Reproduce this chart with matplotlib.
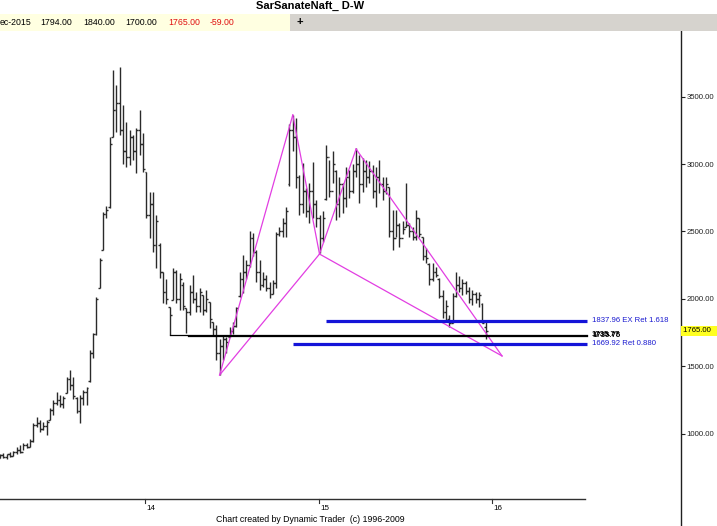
import numpy as np
import pandas as pd
import matplotlib
matplotlib.use('Agg')
import matplotlib.pyplot as plt
from matplotlib.patches import Rectangle
from matplotlib.transforms import blended_transform_factory

plt.rcParams['font.family'] = ['Liberation Sans', 'DejaVu Sans']

# weekly bars, SarSanateNaft
highs = [850, 860, 855, 870, 875, 900, 915, 930, 935, 960,
         1080, 1125, 1105, 1090, 1100, 1190, 1250, 1310, 1290, 1280,
         1420, 1475, 1420, 1275, 1290, 1325, 1350, 1620, 1750, 2015,
         2300, 2645, 2690, 3200, 3695, 3585, 3720, 3440, 3310, 3250,
         3215, 3270, 3400, 3230, 2940, 2790, 2790, 2620, 2415, 2200,
         2150, 1940, 2230, 2215, 2190, 2125, 1930, 2100, 2180, 2050,
         2080, 2030, 2065, 1980, 1830, 1810, 1700, 1735, 1720, 1790,
         1830, 1940, 2200, 2325, 2290, 2500, 2490, 2360, 2290, 2200,
         2180, 2125, 2140, 2495, 2530, 2600, 2680, 3300, 3363, 3340,
         2920, 3005, 2820, 2860, 3015, 2735, 2620, 2650, 3140, 3030,
         3100, 2955, 2900, 2860, 2980, 2955, 3000, 3115, 3065, 3045,
         3030, 3020, 2990, 2980, 3030, 2900, 2900, 2830, 2660, 2660,
         2560, 2580, 2860, 2560, 2530, 2660, 2600, 2460, 2380, 2265,
         2265, 2235, 2155, 2065, 1990, 1880, 2045, 2200, 2170, 2150,
         2130, 2090, 2065, 2050, 2050, 1970, 1840]
lows = [820, 825, 815, 830, 840, 850, 860, 880, 895, 905,
        940, 1050, 1015, 1030, 990, 1105, 1140, 1215, 1200, 1190,
        1300, 1325, 1260, 1155, 1080, 1215, 1215, 1385, 1560, 1735,
        2080, 2360, 2600, 2675, 3200, 3240, 3215, 3000, 2980, 2990,
        3030, 2930, 3070, 2940, 2600, 2450, 2350, 2230, 2155, 1970,
        1960, 1735, 1990, 1970, 1920, 1920, 1750, 1880, 1970, 1900,
        1900, 1880, 1900, 1785, 1735, 1550, 1437, 1550, 1600, 1720,
        1740, 1790, 2015, 2045, 2150, 2240, 2320, 2125, 2065, 2090,
        2060, 2005, 2040, 2080, 2470, 2460, 2460, 2840, 3100, 2820,
        2620, 2635, 2605, 2565, 2600, 2530, 2340, 2420, 2735, 2755,
        2860, 2585, 2610, 2640, 2680, 2750, 2785, 2900, 2710, 2790,
        2830, 2860, 2750, 2680, 2785, 2730, 2780, 2460, 2365, 2460,
        2385, 2480, 2530, 2460, 2440, 2440, 2460, 2290, 2270, 2105,
        2130, 2160, 2005, 1860, 1845, 1790, 1820, 2015, 2050, 2030,
        2040, 1970, 1955, 1970, 1940, 1820, 1700]
opens = [825, 845, 830, 850, 840, 870, 885, 870, 920, 900,
         950, 1070, 1080, 1040, 1060, 1100, 1180, 1230, 1250, 1220,
         1300, 1410, 1360, 1270, 1170, 1270, 1310, 1390, 1600, 1740,
         2080, 2360, 2630, 2680, 3200, 3400, 3450, 3250, 3100, 3050,
         3200, 3100, 3250, 3150, 2940, 2620, 2700, 2400, 2400, 2200,
         2050, 1940, 1990, 2200, 2000, 2100, 1930, 1900, 2050, 2000,
         1950, 2030, 1920, 1980, 1830, 1780, 1600, 1650, 1700, 1720,
         1760, 1800, 2020, 2150, 2200, 2250, 2450, 2350, 2200, 2100,
         2150, 2080, 2040, 2120, 2480, 2500, 2560, 2850, 3250, 3200,
         2900, 2700, 2800, 2650, 2800, 2700, 2600, 2450, 2740, 3050,
         2800, 2950, 2700, 2850, 2750, 2900, 2800, 2950, 3000, 2850,
         2950, 2900, 2950, 2800, 2900, 2850, 2800, 2830, 2500, 2450,
         2550, 2450, 2530, 2550, 2500, 2460, 2600, 2460, 2320, 2260,
         2150, 2200, 2150, 2020, 1900, 1850, 1820, 2020, 2100, 2080,
         2120, 2060, 2000, 2040, 2000, 1960, 1794]
closes = [845, 830, 850, 840, 870, 885, 870, 920, 900, 950,
          1070, 1080, 1040, 1060, 1090, 1180, 1230, 1250, 1220, 1270,
          1410, 1360, 1280, 1170, 1270, 1310, 1340, 1600, 1740, 2000,
          2290, 2630, 2660, 3150, 3400, 3450, 3250, 3100, 3050, 3200,
          3100, 3250, 3150, 2960, 2620, 2700, 2400, 2580, 2200, 2050,
          2000, 1880, 2200, 2000, 2150, 1950, 1900, 2050, 2000, 1950,
          2050, 1920, 2000, 1850, 1780, 1600, 1650, 1700, 1680, 1760,
          1800, 1930, 2150, 2200, 2250, 2450, 2350, 2200, 2100, 2150,
          2080, 2040, 2120, 2480, 2500, 2560, 2650, 3250, 3200, 2900,
          2700, 2800, 2650, 2800, 2700, 2600, 2450, 2600, 3050, 2800,
          3000, 2700, 2850, 2750, 2900, 2800, 2950, 3000, 2850, 2950,
          2900, 2950, 2800, 2900, 2850, 2800, 2850, 2500, 2450, 2550,
          2450, 2520, 2550, 2500, 2460, 2600, 2480, 2320, 2300, 2150,
          2200, 2180, 2020, 1900, 1950, 1820, 2020, 2100, 2080, 2120,
          2060, 2000, 2040, 2000, 2030, 1824, 1765]
weeks = pd.date_range('2013-03-02', periods=len(highs), freq='7D')

# harmonic pattern X-A-B-C-D
pattern_dates = ['2014-06-07', '2014-11-08', '2015-01-03', '2015-03-21', '2016-01-22']
pattern_prices = [1437, 3363, 2333, 3111, 1578]

# horizontal price levels
blue_levels = [1837.96, 1669.92]
blue_starts = ['2015-01-17', '2014-11-08']
blue_labels = ['1837.96 EX Ret 1.618', '1669.92 Ret 0.880']
black_levels = [1735.75, 1724.0]
black_starts = ['2014-02-22', '2014-04-01']
black_labels = ['1735.77', '1735.75']
level_end = '2016-07-18'

price_ticks = [1000, 1500, 2000, 2500, 3000, 3500]
year_ticks = [14, 15, 16]
last_close = 1765.00


def to_year(d):
    d = pd.DatetimeIndex(pd.to_datetime(d))
    return np.asarray((d.year - 2000) + (d.dayofyear - 1) / 365.25)


W, H = 717, 526
fig = plt.figure(figsize=(W / 100, H / 100), dpi=100)
fig.patch.set_facecolor('white')

ax = fig.add_axes([0, 0, 681 / W, (H - 30) / H])
ax.set_xlim(13.164, 17.089)
ax.set_ylim(318.5, 3992.6)

x = to_year(weeks)
tick = 0.011
bar_col = '#2a2a2a'
ax.vlines(x, lows, highs, color=bar_col, lw=1.0)
ax.hlines(opens, x - tick, x, color=bar_col, lw=1.0)
ax.hlines(closes, x, x + tick, color=bar_col, lw=1.0)

# pattern lines
px = to_year(pattern_dates)
segs = [(0, 1), (1, 2), (2, 3), (3, 4), (0, 2), (2, 4)]
for a, b in segs:
    ax.plot([px[a], px[b]], [pattern_prices[a], pattern_prices[b]],
            color='#e23ee2', lw=0.9, zorder=3)

xe = to_year([level_end])[0]
lab_x = 16.576
for lvl, st in zip(black_levels, black_starts):
    ax.plot([to_year([st])[0], xe], [lvl, lvl], color='black', lw=0.9, zorder=4)
for i, lab in enumerate(black_labels):
    ax.text(lab_x + i * 0.004, black_levels[0] - i * 8, lab, fontsize=5.6,
            color='black', va='center', ha='left', fontweight='bold')
for lvl, st, lab in zip(blue_levels, blue_starts, blue_labels):
    ax.plot([to_year([st])[0], xe], [lvl, lvl], color='#1414d8', lw=2.3, zorder=4,
            solid_capstyle='butt')
    ax.text(lab_x, lvl, lab, fontsize=5.6, color='#1a1ad0', va='center', ha='left')

# axes styling
for s in ['top', 'left', 'bottom']:
    ax.spines[s].set_visible(False)
ax.spines['right'].set_color('#202020')
ax.spines['right'].set_linewidth(1.0)
ax.yaxis.tick_right()
ax.set_yticks(price_ticks)
ax.set_yticklabels(['%.2f' % p for p in price_ticks])
ax.tick_params(axis='y', direction='out', length=3, labelsize=5.6, pad=1,
               colors='#202020')
ax.set_xticks([])

# time axis line drawn only under the price area
tb = blended_transform_factory(ax.transData, ax.transAxes)
base_y = 27 / (H - 30)
ax.plot([0, 585 / 681], [base_y, base_y], transform=ax.transAxes,
        color='#303030', lw=1.0, clip_on=False)
for yt in year_ticks:
    ax.plot([yt, yt], [base_y, base_y - 0.008], transform=tb, color='#303030',
            lw=0.8, clip_on=False)
    ax.text(yt + 0.01, base_y - 0.012, str(yt), transform=tb, fontsize=5.8,
            ha='left', va='top')

ax.text(1.003, last_close, '1765.00  ', transform=blended_transform_factory(ax.transAxes, ax.transData),
        fontsize=5.6, va='center', ha='left', clip_on=False,
        bbox=dict(boxstyle='square,pad=0.2', fc='#ffff20', ec='none'))

# header
fig.text(310 / W, 1 - 6 / H, 'SarSanateNaft_ D-W', fontsize=8, fontweight='bold',
         ha='center', va='center')
fig.patches.append(Rectangle((0, 1 - 31 / H), 290 / W, 17 / H, transform=fig.transFigure,
                             fc='#ffffe1', ec='none', zorder=0))
fig.patches.append(Rectangle((290 / W, 1 - 31 / H), 1 - 290 / W, 17 / H,
                             transform=fig.transFigure, fc='#d6d3ce', ec='none', zorder=0))
hdr_y = 1 - 22.5 / H
fields = [('ec-2015', 0, 'black'), ('1794.00', 40, 'black'), ('1840.00', 83, 'black'),
          ('1700.00', 125, 'black'), ('1765.00', 168, '#e01010'), ('-59.00', 210, '#e01010')]
for txt, xp, col in fields:
    fig.text(xp / W, hdr_y, txt, fontsize=6.3, color=col, ha='left', va='center')
fig.text(300 / W, hdr_y, '+', fontsize=8, fontweight='bold', ha='center', va='center')

fig.text(310 / W, 1 - 519 / H, 'Chart created by Dynamic Trader  (c) 1996-2009',
         fontsize=6.3, ha='center', va='center')

fig.savefig('out.png', dpi=100)
